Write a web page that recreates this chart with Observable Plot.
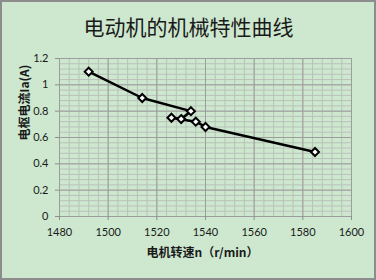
<!DOCTYPE html>
<html>
<head>
<meta charset="utf-8">
<script src="https://cdn.jsdelivr.net/npm/d3@7"></script>
<script src="https://cdn.jsdelivr.net/npm/@observablehq/plot@0.6"></script>
<style>
  html, body { margin: 0; padding: 0; background: #cde8cf; }
  #wrap { position: relative; width: 376px; height: 280px; overflow: hidden; }
  #wrap svg { position: absolute; left: 0; top: 0; }
  #border { position: absolute; left: 0; top: 0; width: 376px; height: 280px; box-sizing: border-box; border: 2px solid #8d8d8d; pointer-events: none; }
</style>
</head>
<body>
<div id="wrap"><div id="border"></div></div>
<script>
const title = "电动机的机械特性曲线";
const xLabel = "电机转速n（r/min）";
const yLabel = "电枢电流Ia(A)";

// measurement order as drawn in the reference
const speed   = [1492, 1514, 1534, 1530, 1526, 1536, 1540, 1585];
const current = [1.10, 0.90, 0.80, 0.74, 0.75, 0.72, 0.68, 0.49];

const xTicks = [1480, 1500, 1520, 1540, 1560, 1580, 1600];
const yTicks = [0, 0.2, 0.4, 0.6, 0.8, 1.0, 1.2];
const xMinor = d3.range(1480, 1600.001, 4);
const yMinor = d3.range(0, 31).map(i => i * 0.04);

const data = speed.map((s, i) => ({speed: s, current: current[i]}));

const chart = Plot.plot({
  width: 376,
  height: 280,
  marginLeft: 59,
  marginRight: 25,
  marginTop: 58,
  marginBottom: 64,
  style: {background: "transparent", fontFamily: "Lato, 'Noto Sans', sans-serif", fontSize: "11px", color: "#1a1a1a"},
  x: {domain: [1480, 1600]},
  y: {domain: [0, 1.2]},
  marks: [
    Plot.gridX(xMinor, {stroke: "#b9c2b9", strokeOpacity: 1, strokeWidth: 1}),
    Plot.gridY(yMinor, {stroke: "#b9c2b9", strokeOpacity: 1, strokeWidth: 1}),
    Plot.gridX(xTicks, {stroke: "#9d9d9d", strokeOpacity: 1, strokeWidth: 1}),
    Plot.gridY(yTicks, {stroke: "#9d9d9d", strokeOpacity: 1, strokeWidth: 1}),
    Plot.axisX({ticks: xTicks, tickSize: 4, tickPadding: 8, stroke: "#8d8d8d", tickFormat: d => String(d), label: null}),
    Plot.axisY({ticks: yTicks, tickSize: 4, tickPadding: 7, stroke: "#8d8d8d", tickFormat: d => String(+d.toFixed(1)), label: null}),
    Plot.line(data, {x: "speed", y: "current", stroke: "black", strokeWidth: 2.5}),
    Plot.dot(data, {x: "speed", y: "current", symbol: "diamond2", r: 3.6, stroke: "black", strokeWidth: 2, fill: "white"}),
    Plot.text([title], {frameAnchor: "top", lineAnchor: "middle", dx: -17, dy: -30, fontSize: 21, fontFamily: "'Noto Sans CJK SC', sans-serif", fill: "#1a1a1a"}),
    Plot.text([xLabel], {frameAnchor: "bottom", lineAnchor: "middle", dx: -3, dy: 37, fontSize: 12, fontWeight: "bold", fontFamily: "'Noto Sans CJK SC', sans-serif", fill: "#1a1a1a"}),
    Plot.text([yLabel], {frameAnchor: "left", lineAnchor: "middle", dx: -34, dy: 3, rotate: -90, fontSize: 12, fontWeight: "bold", fontFamily: "'Noto Sans CJK SC', sans-serif", fill: "#1a1a1a"})
  ]
});
document.getElementById("wrap").prepend(chart);
</script>
</body>
</html>
